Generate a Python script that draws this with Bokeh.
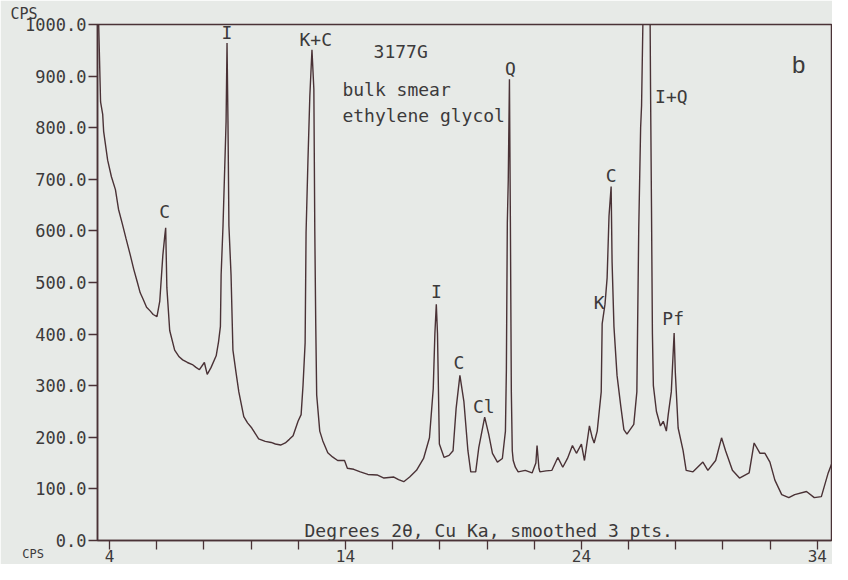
from bokeh.plotting import figure
from bokeh.models import Range1d, FixedTicker, Label, Title
from bokeh.embed import file_html
from bokeh.resources import INLINE

# ---- data (degrees 2-theta, counts per second) ----
two_theta = [
    3.45, 3.54, 3.62, 3.71, 3.75, 3.92, 4.08, 4.25, 4.38, 4.54,
    4.70, 4.88, 5.03, 5.17, 5.30, 5.42, 5.57, 5.72, 5.85, 6.01,
    6.13, 6.26, 6.34, 6.38, 6.43, 6.55, 6.76, 6.95, 7.10, 7.30,
    7.51, 7.65, 7.81, 8.02, 8.14, 8.30, 8.52, 8.62, 8.70, 8.73,
    8.81, 8.94, 8.98, 9.02, 9.06, 9.15, 9.23, 9.36, 9.48, 9.69,
    9.85, 10.03, 10.32, 10.60, 10.85, 11.03, 11.25, 11.45, 11.62, 11.78,
    11.99, 12.12, 12.20, 12.29, 12.33, 12.41, 12.49, 12.58, 12.66, 12.70,
    12.74, 12.78, 12.91, 13.04, 13.25, 13.45, 13.67, 13.96, 14.08, 14.35,
    14.63, 14.95, 15.34, 15.63, 16.05, 16.25, 16.47, 16.72, 17.01, 17.31,
    17.56, 17.72, 17.79, 17.85, 17.90, 17.98, 18.18, 18.39, 18.56, 18.69,
    18.85, 19.02, 19.19, 19.31, 19.52, 19.65, 19.90, 20.07, 20.23, 20.44,
    20.65, 20.78, 20.82, 20.86, 20.90, 20.95, 20.99, 21.03, 21.07, 21.11,
    21.20, 21.32, 21.62, 21.91, 22.07, 22.12, 22.20, 22.24, 22.50, 22.75,
    23.00, 23.21, 23.41, 23.62, 23.79, 24.00, 24.13, 24.34, 24.46, 24.54,
    24.67, 24.84, 24.88, 25.00, 25.09, 25.17, 25.26, 25.30, 25.38, 25.51,
    25.67, 25.80, 25.93, 26.22, 26.35, 26.43, 26.51, 26.55, 26.64, 26.90,
    26.93, 26.97, 27.01, 27.05, 27.18, 27.35, 27.47, 27.60, 27.68, 27.81,
    27.93, 27.98, 28.10, 28.31, 28.44, 28.73, 29.15, 29.36, 29.69, 29.94,
    30.11, 30.40, 30.70, 31.11, 31.32, 31.57, 31.78, 31.99, 32.20, 32.49,
    32.79, 33.04, 33.54, 33.87, 34.17, 34.46, 34.71, 34.88,
]
cps = [
    1100, 1000, 850, 826, 793, 737, 705, 680, 642, 614,
    585, 553, 525, 502, 480, 468, 452, 445, 438, 434,
    464, 553, 590, 606, 490, 407, 369, 356, 350, 345,
    341, 336, 331, 345, 322, 335, 358, 385, 415, 515,
    610, 812, 964, 812, 610, 515, 369, 326, 288, 240,
    228, 218, 197, 192, 190, 187, 185, 189, 196, 203,
    231, 244, 300, 383, 597, 737, 862, 951, 875, 600,
    420, 282, 212, 193, 170, 162, 155, 155, 140, 138,
    133, 128, 127, 121, 123, 118, 114, 123, 136, 159,
    199, 294, 401, 458, 401, 187, 161, 165, 174, 256,
    320, 269, 174, 133, 133, 180, 239, 206, 169, 152,
    159, 212, 331, 616, 699, 894, 616, 288, 174, 155,
    142, 133, 136, 131, 150, 184, 140, 133, 135, 136,
    161, 142, 159, 184, 169, 187, 155, 222, 199, 189,
    212, 288, 420, 458, 509, 629, 686, 540, 414, 320,
    260, 215, 206, 225, 288, 604, 800, 843, 1100, 1100,
    877, 648, 400, 300, 250, 222, 231, 212, 244, 288,
    402, 326, 218, 174, 136, 133, 152, 136, 155, 199,
    174, 136, 121, 131, 189, 169, 169, 152, 117, 89,
    83, 89, 95, 83, 85, 131, 161, 180,
]

y_ticks = [0, 100, 200, 300, 400, 500, 600, 700, 800, 900, 1000]
y_tick_labels = ["0.0", "100.0", "200.0", "300.0", "400.0", "500.0",
                 "600.0", "700.0", "800.0", "900.0", "1000.0"]
x_major = [4, 14, 24, 34]
x_minor = [6, 8, 10, 12, 16, 18, 20, 22, 26, 28, 30, 32]

# peak annotations: text, 2-theta, cps
peak_text = ["C", "I", "K+C", "Q", "I+Q", "C", "K", "Pf", "I", "C", "Cl"]
peak_x = [6.34, 8.98, 12.74, 20.99, 27.81, 25.26, 24.75, 27.89, 17.85, 18.81, 19.86]
peak_y = [637, 984, 970, 915, 860, 708, 462, 430, 483, 345, 259]

BG = "#e7eae7"
INK = "#4a3236"
TXT = "#3c3a3b"
MONO = "DejaVu Sans Mono"

p = figure(width=832, height=564, output_backend="svg", toolbar_location=None,
           x_range=Range1d(3.49, 34.6), y_range=Range1d(0, 1000),
           min_border_left=85, min_border_top=24, min_border_right=1,
           min_border_bottom=0)
p.background_fill_color = BG
p.border_fill_color = BG
p.outline_line_color = INK
p.outline_line_width = 1.5
p.grid.visible = False

p.line(two_theta, cps, line_color=INK, line_width=1.4)

# y axis
ya = p.yaxis[0]
ya.ticker = FixedTicker(ticks=y_ticks)
ya.major_label_overrides = {t: l for t, l in zip(y_ticks, y_tick_labels)}
ya.major_tick_out = 9
ya.major_tick_in = 0
ya.minor_tick_out = 0
ya.minor_tick_in = 0
ya.major_label_standoff = 2
ya.axis_line_color = INK
ya.axis_line_width = 1.5
ya.major_tick_line_color = INK
ya.major_tick_line_width = 1.3
ya.major_label_text_font = MONO
ya.major_label_text_font_size = "17px"
ya.major_label_text_color = TXT

# x axis
xa = p.xaxis[0]
xa.ticker = FixedTicker(ticks=x_major, minor_ticks=x_minor)
xa.major_tick_out = 9
xa.major_tick_in = 0
xa.minor_tick_out = 9
xa.minor_tick_in = 0
xa.major_label_standoff = 0
xa.axis_line_color = INK
xa.axis_line_width = 1.5
xa.major_tick_line_color = INK
xa.minor_tick_line_color = INK
xa.major_tick_line_width = 1.3
xa.minor_tick_line_width = 1.3
xa.major_label_text_font = MONO
xa.major_label_text_font_size = "16px"
xa.major_label_text_color = TXT

def lab(text, x, y, align="center", size="18px", font=MONO, baseline="middle"):
    p.add_layout(Label(x=x, y=y, text=text, text_align=align, text_baseline=baseline,
                       text_font=font, text_font_size=size, text_color=TXT))

for t, x, y in zip(peak_text, peak_x, peak_y):
    lab(t, x, y)

lab("3177G", 16.34, 947)
lab("bulk smear", 13.87, 875, align="left")
lab("ethylene glycol", 13.87, 824, align="left")
lab("b", 33.21, 922, size="24px", font="Liberation Sans")
lab("Degrees 2\u03b8, Cu Ka, smoothed 3 pts.", 20.07, 19, size="18px")

# "CPS" captions outside the frame
p.add_layout(Title(text="CPS", align="left", offset=-87, standoff=0,
                   text_font=MONO, text_font_size="15px", text_font_style="normal",
                   text_color=TXT, vertical_align="top"), "above")
p.add_layout(Label(x=0.3, y=-12, text="CPS", text_align="left", text_baseline="top",
                   text_font=MONO, text_font_size="12px", text_color=TXT), "left")

open("out.html", "w").write(file_html(p, INLINE))
